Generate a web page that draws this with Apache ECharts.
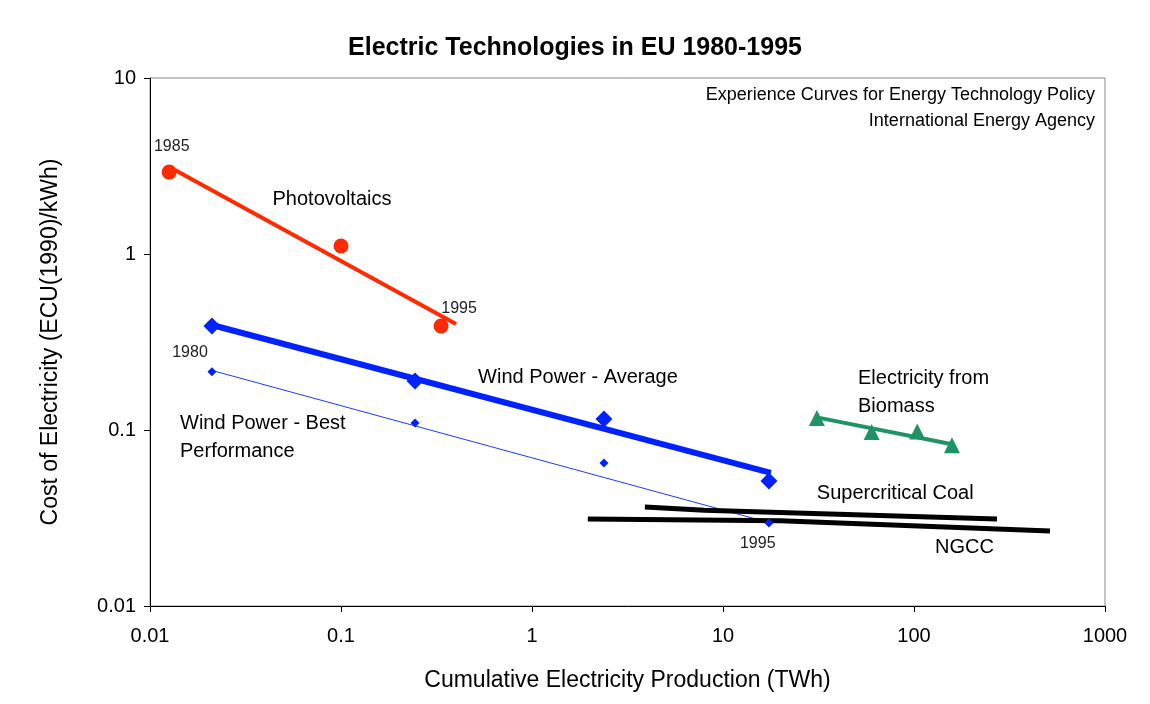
<!DOCTYPE html>
<html>
<head>
<meta charset="utf-8">
<script src="https://cdn.jsdelivr.net/npm/echarts@6/dist/echarts.min.js"></script>
</head>
<body style="margin:0;background:#fff">
<div id="main" style="width:1150px;height:704px;"></div>
<script type="text/javascript">
// measured points: [TWh, ECU/kWh]
var pvPoints = [[0.0126, 2.92], [0.1, 1.11], [0.334, 0.39]];
var pvFit = [[0.0135, 3.0], [0.4, 0.4]];
var windAvgPoints = [[0.0211, 0.39], [0.244, 0.19], [2.38, 0.1155], [17.4, 0.0513]];
var windAvgFit = [[0.0211, 0.395], [17.8, 0.057]];
var windBestPoints = [[0.0211, 0.214], [0.244, 0.1097], [2.38, 0.065], [17.4, 0.0296]];
var windBestFit = [[0.0211, 0.218], [17.4, 0.0298]];
var biomassPoints = [[31, 0.117], [60, 0.0975], [104, 0.098], [158, 0.082]];
var biomassFit = [[31, 0.118], [158, 0.083]];
var coalLine = [[3.9, 0.0365], [8, 0.035], [272, 0.0312]];
var ngccLine = [[1.96, 0.0312], [20, 0.0305], [515, 0.0267]];

// text notes placed in data space: [x, y, text, align, size, color]
var notes = [
    [0.0130, 4.06, '1985', 'center', 16, '#222'],
    [0.415, 0.487, '1995', 'center', 16, '#222'],
    [0.0162, 0.277, '1980', 'center', 16, '#222'],
    [15.2, 0.0225, '1995', 'center', 16, '#222'],
    [0.0897, 2.03, 'Photovoltaics', 'center', 20, '#000'],
    [1.74, 0.2, 'Wind Power - Average', 'center', 20, '#000'],
    [0.01436, 0.0912, 'Wind Power - Best\nPerformance', 'left', 20, '#000'],
    [50.9, 0.164, 'Electricity from\nBiomass', 'left', 20, '#000'],
    [31, 0.0438, 'Supercritical Coal', 'left', 20, '#000'],
    [128.8, 0.0214, 'NGCC', 'left', 20, '#000']
];
var sourceLines = ['Experience Curves for Energy Technology Policy', 'International Energy Agency'];

var chart = echarts.init(document.getElementById('main'));

function fitLine(data, color, width) {
    return {
        type: 'line', data: data, showSymbol: false, silent: true,
        lineStyle: { color: color, width: width }, z: 2
    };
}
function points(data, symbol, size, color) {
    return {
        type: 'scatter', data: data, symbol: symbol, symbolSize: size,
        itemStyle: { color: color, opacity: 1 }, z: 3
    };
}

var font = 'Liberation Sans, Arial, sans-serif';

var option = {
    backgroundColor: '#fff',
    animation: false,
    textStyle: { fontFamily: font },
    title: {
        text: 'Electric Technologies in EU 1980-1995',
        left: 'center', top: 31,
        textStyle: { fontSize: 25, fontWeight: 'bold', color: '#000', fontFamily: font }
    },
    graphic: sourceLines.map(function (t, i) {
        return {
            type: 'text', x: 1095, y: 86 + i * 26,
            style: { text: t, align: 'right', font: '18px ' + font, fill: '#000' }
        };
    }),
    grid: {
        left: 150, right: 45, top: 78, bottom: 98,
        show: true, borderColor: '#888', borderWidth: 1, backgroundColor: 'transparent'
    },
    xAxis: {
        type: 'log', logBase: 10, min: 0.01, max: 1000,
        name: 'Cumulative Electricity Production (TWh)',
        nameLocation: 'middle', nameGap: 63,
        nameTextStyle: { fontSize: 23, color: '#000' },
        axisLine: { lineStyle: { color: '#000' } },
        axisTick: { inside: false, length: 6, lineStyle: { color: '#000' } },
        axisLabel: {
            fontSize: 20, color: '#000', margin: 20,
            formatter: function (v) { return String(+(+v).toPrecision(3)); }
        },
        splitLine: { show: false }, minorTick: { show: false }
    },
    yAxis: {
        type: 'log', logBase: 10, min: 0.01, max: 10,
        name: 'Cost of Electricity (ECU(1990)/kWh)',
        nameLocation: 'middle', nameGap: 88,
        nameTextStyle: { fontSize: 23, color: '#000' },
        axisLine: { show: true, lineStyle: { color: '#000' } },
        axisTick: { show: true, inside: false, length: 6, lineStyle: { color: '#000' } },
        axisLabel: {
            fontSize: 20, color: '#000', margin: 14,
            formatter: function (v) { return String(+(+v).toPrecision(3)); }
        },
        splitLine: { show: false }
    },
    series: [
        fitLine(pvFit, '#ff2a00', 4),
        points(pvPoints, 'circle', 15, '#ff2a00'),
        fitLine(windAvgFit, '#0022ff', 6),
        points(windAvgPoints, 'diamond', 17, '#0022ff'),
        fitLine(windBestFit, '#1a3cff', 1),
        points(windBestPoints, 'diamond', 9, '#0022ff'),
        fitLine(biomassFit, '#1e9464', 4),
        points(biomassPoints, 'triangle', 16, '#1e9464'),
        fitLine(coalLine, '#000', 5),
        fitLine(ngccLine, '#000', 5),
        {
            type: 'scatter', symbolSize: 0, silent: true, z: 5,
            itemStyle: { opacity: 1 },
            data: notes.map(function (n) {
                return {
                    value: [n[0], n[1]],
                    label: {
                        show: true, position: 'inside', formatter: n[2],
                        align: n[3], verticalAlign: 'middle',
                        fontSize: n[4], color: n[5], lineHeight: n[4] + 8,
                        fontFamily: font, textBorderWidth: 0
                    }
                };
            })
        }
    ]
};
chart.setOption(option);
</script>
</body>
</html>
